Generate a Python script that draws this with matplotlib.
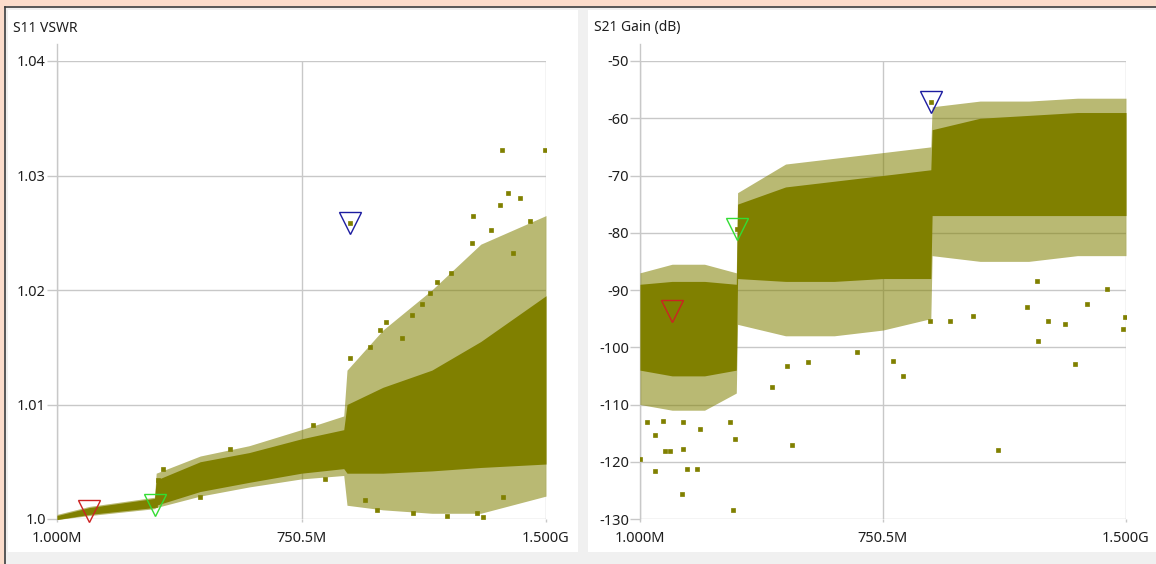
import matplotlib
matplotlib.use("Agg")
import matplotlib.pyplot as plt
from matplotlib.patches import Rectangle
from matplotlib.lines import Line2D

# ---------------- data (frequency in MHz) ----------------
x_ticks = [1.0, 750.5, 1500.0]
x_tick_labels = ["1.000M", "750.5M", "1.500G"]

# S11 VSWR sweep: dense core envelope and sparse outer envelope of the trace
vswr_freq = [1, 100, 300, 305, 440, 590, 750, 880, 890, 1000, 1150, 1300, 1500]
vswr_core_lo = [0.99995, 1.0004, 1.0010, 1.0012, 1.0024, 1.0032, 1.0040, 1.0044,
                1.0040, 1.0040, 1.0042, 1.0045, 1.0048]
vswr_core_hi = [1.0003, 1.0010, 1.0018, 1.0034, 1.0050, 1.0058, 1.0070, 1.0078,
                1.0100, 1.0115, 1.0130, 1.0155, 1.0195]
vswr_outer_lo = [0.99995, 1.0003, 1.0009, 1.0010, 1.0020, 1.0028, 1.0035, 1.0038,
                 1.0012, 1.0008, 1.0005, 1.0005, 1.0020]
vswr_outer_hi = [1.0004, 1.0011, 1.0019, 1.0040, 1.0055, 1.0064, 1.0078, 1.0090,
                 1.0130, 1.0165, 1.0200, 1.0240, 1.0265]
# isolated samples outside the envelopes
vswr_pts_f = [1365, 1497, 1384, 1420, 1276, 1359, 899, 1166, 1144, 1089, 991, 1273,
              982, 1092, 1197, 1288, 1307, 945, 1368, 531, 326, 311, 823, 439, 786,
              960, 1010, 1060, 1120, 1210, 1330, 1400, 1450]
vswr_pts_v = [1.0322, 1.0322, 1.0285, 1.0280, 1.0265, 1.0274, 1.0141, 1.0207, 1.0197,
              1.0178, 1.0165, 1.0241, 1.0008, 1.0005, 1.0003, 1.0005, 1.0002, 1.0017,
              1.0019, 1.0061, 1.0044, 1.0034, 1.0035, 1.0019, 1.0082,
              1.0150, 1.0172, 1.0158, 1.0188, 1.0215, 1.0252, 1.0232, 1.0260]
vswr_ticks = [1.0, 1.01, 1.02, 1.03, 1.04]
vswr_tick_labels = ["1.0", "1.01", "1.02", "1.03", "1.04"]

# S21 gain sweep (dB)
gain_freq = [1, 100, 200, 298, 302, 450, 600, 750, 898, 902, 1050, 1200, 1350, 1500]
gain_core_lo = [-104, -105, -105, -104, -88, -88.5, -88.5, -88, -88, -77, -77, -77, -77, -77]
gain_core_hi = [-89, -88.5, -88.5, -89, -75, -72, -71, -70, -69, -62, -60, -59.5, -59, -59]
gain_outer_lo = [-110, -111, -111, -108, -96, -98, -98, -97, -95, -84, -85, -85, -84, -84]
gain_outer_hi = [-87, -85.5, -85.5, -87, -73, -68, -67, -66, -65, -58, -57, -57, -56.5, -56.5]
gain_pts_f = [23, 47, 78, 94, 134, 47, 146, 177, 131, 288, 1, 72, 134, 186, 279, 294,
              470, 1105, 670, 781, 812, 408, 519, 454, 1195, 1229, 1260, 1312, 1380,
              1497, 1491, 1441, 1226, 1028, 957, 895, 1343]
gain_pts_v = [-113.0, -115.4, -118.2, -118.1, -117.7, -121.6, -121.2, -121.2, -125.6,
              -128.5, -119.5, -112.8, -113.0, -114.2, -113.0, -116.0, -117.0, -117.9,
              -100.8, -102.4, -105.0, -106.9, -102.5, -103.2, -92.9, -98.9, -95.4,
              -95.9, -92.4, -94.7, -96.8, -89.8, -88.4, -94.5, -95.4, -95.4, -102.9]
gain_ticks = [-130, -120, -110, -100, -90, -80, -70, -60, -50]
gain_tick_labels = [str(v) for v in gain_ticks]

# markers 1..3
marker_freq = [100, 300, 900]
marker_colors = ["#cc2222", "#33dd33", "#1c1ca0"]
vswr_marker_v = [1.0007, 1.0012, 1.02585]
gain_marker_v = [-93.7, -79.4, -57.1]

# ---------------- styling ----------------
W, H = 1156, 564
OLIVE = "#808000"
GRID = "#c8c8c8"
TEXT = "#1e1e1e"
FONT = "Noto Sans"
plt.rcParams["font.family"] = FONT

fig = plt.figure(figsize=(W / 100, H / 100), dpi=100, facecolor="#f0f0f0")


def frac_rect(x0, y0, x1, y1):
    return [x0 / W, 1 - y1 / H, (x1 - x0) / W, (y1 - y0) / H]


def add_rect(x0, y0, x1, y1, color):
    l, b, w, h = frac_rect(x0, y0, x1, y1)
    fig.add_artist(Rectangle((l, b), w, h, transform=fig.transFigure,
                             facecolor=color, edgecolor="none", zorder=0))


# window frame
add_rect(0, 0, W, 6, "#fbdccb")
add_rect(0, 0, 4, H, "#fbdccb")
fig.add_artist(Line2D([4.5 / W, 1], [1 - 6.5 / H] * 2, transform=fig.transFigure,
                      color="#3c3c3c", lw=1.2))
fig.add_artist(Line2D([4.5 / W] * 2, [0, 1 - 6.5 / H], transform=fig.transFigure,
                      color="#3c3c3c", lw=1.2))

# chart backgrounds
add_rect(8, 10, 578, 552, "white")
add_rect(588, 10, W, 552, "white")


def draw_panel(rect, title, title_x, freq, core_lo, core_hi, outer_lo, outer_hi,
               pts_f, pts_v, mk_v, ylim, yticks, ylabels):
    ax = fig.add_axes(frac_rect(*rect))
    ax.set_facecolor("none")
    for s in ax.spines.values():
        s.set_visible(False)
    ax.set_xlim(1.0, 1500.0)
    ax.set_ylim(*ylim)
    ax.set_xticks(x_ticks, x_tick_labels)
    ax.set_yticks(yticks, ylabels)
    ax.grid(True, color=GRID, lw=1.0, zorder=0)
    ax.tick_params(axis="y", length=7, width=1.0, color=GRID, pad=1,
                   labelsize=10.5, labelcolor=TEXT)
    ax.tick_params(axis="x", length=2.5, width=1.0, color=GRID, pad=6,
                   labelsize=10.5, labelcolor=TEXT)
    # left axis line reaching above the top grid line
    ax.add_line(Line2D([0, 0], [0, 1.037], transform=ax.transAxes, color=GRID,
                       lw=1.0, clip_on=False, zorder=0))

    ax.fill_between(freq, outer_lo, outer_hi, color=OLIVE, alpha=0.55,
                    lw=0, zorder=2)
    ax.fill_between(freq, core_lo, core_hi, color=OLIVE, lw=0, zorder=3)
    ax.plot(pts_f, pts_v, ls="none", marker="s", ms=2.2, color=OLIVE,
            mew=0.5, zorder=4)
    ax.plot(marker_freq, mk_v, ls="none", marker="s", ms=2.2, color=OLIVE,
            mew=0.5, zorder=4)
    for f, v, c in zip(marker_freq, mk_v, marker_colors):
        ax.plot([f], [v], ls="none", marker="v", ms=16, mfc="none", mec=c,
                mew=1.0, zorder=5, clip_on=False)

    fig.text(title_x / W, 1 - 28 / H, title, fontsize=10, color=TEXT,
             ha="left", va="center")
    return ax


draw_panel((57, 61, 546, 519), "S11 VSWR", 13, vswr_freq, vswr_core_lo, vswr_core_hi,
           vswr_outer_lo, vswr_outer_hi, vswr_pts_f, vswr_pts_v, vswr_marker_v,
           (1.0, 1.04), vswr_ticks, vswr_tick_labels)
draw_panel((640, 61, 1126, 519), "S21 Gain (dB)", 594, gain_freq, gain_core_lo,
           gain_core_hi, gain_outer_lo, gain_outer_hi, gain_pts_f, gain_pts_v,
           gain_marker_v, (-130, -50), gain_ticks, gain_tick_labels)

fig.savefig("out.png", dpi=100, facecolor=fig.get_facecolor())
